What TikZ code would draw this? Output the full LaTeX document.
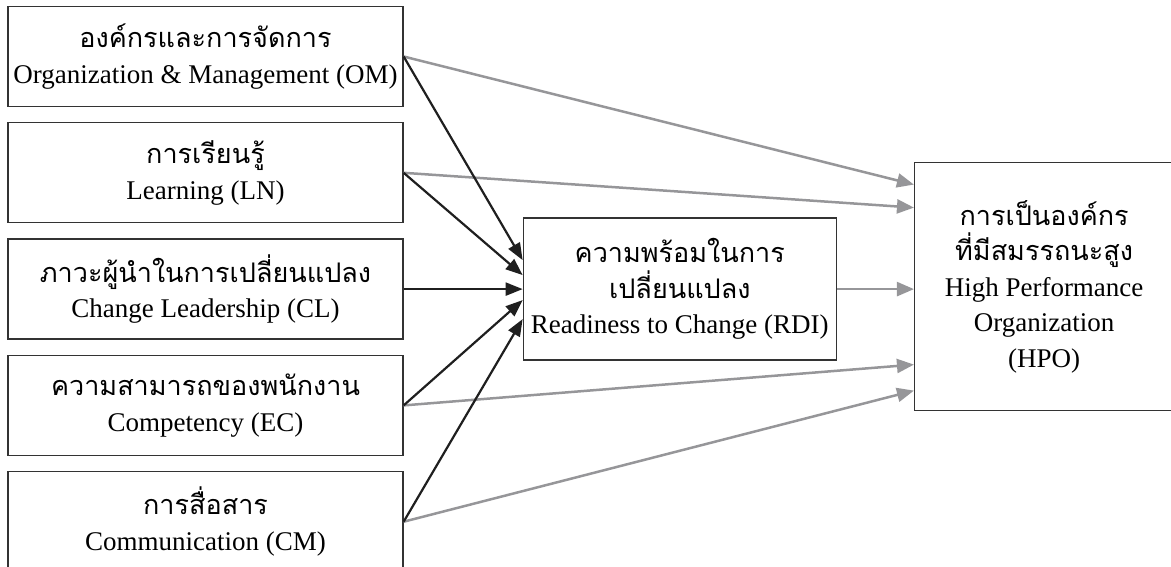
\documentclass[tikz,border=0pt]{standalone}
\usepackage{fontspec}
\setmainfont{Liberation Serif}
\newfontfamily\thaifont[Script=Thai,Scale=1.0]{Loma}
\usepackage{xcolor}
\usepackage{tikz}
\usetikzlibrary{arrows.meta,positioning}
\definecolor{hpogray}{RGB}{150,150,153}

\begin{document}
\begin{tikzpicture}[
    x=1pt, y=1pt,
    font=\fontsize{27pt}{35.5pt}\selectfont,
    box/.style={draw=black!80, line width=1.3pt, minimum width=395pt, minimum height=100pt, align=center, inner sep=0pt},
    toRDI/.style={-{Triangle[length=17pt,width=13pt]}, line width=2.2pt, draw=black!88},
    toHPO/.style={-{Triangle[length=17pt,width=14pt]}, line width=2.5pt, draw=hpogray},
    node distance=15pt
]
\useasboundingbox (0,0) rectangle (1171,-566);
\node[box] (om) at (205.5,-56.5) {{\thaifont องค์กรและการจัดการ}\\Organization \& Management (OM)};
\node[box, below=of om] (ln) {{\thaifont การเรียนรู้}\\Learning (LN)};
\node[box, below=of ln] (cl) {{\thaifont ภาวะผู้นำในการเปลี่ยนแปลง}\\Change Leadership (CL)};
\node[box, below=of cl] (ec) {{\thaifont ความสามารถของพนักงาน}\\Competency (EC)};
\node[box, below=of ec] (cm) {{\thaifont การสื่อสาร}\\Communication (CM)};
\node[box, minimum width=313pt, minimum height=142pt, right=119pt of cl] (rdi) {{\thaifont ความพร้อมในการ}\\{\thaifont เปลี่ยนแปลง}\\Readiness to Change (RDI)};
\node[box, minimum width=259pt, minimum height=248pt, right=77pt of rdi, yshift=2.5pt] (hpo) {{\thaifont การเป็นองค์กร}\\{\thaifont ที่มีสมรรถนะสูง}\\High Performance\\Organization\\(HPO)};

\draw[toHPO] (om.east) -- ([yshift=102pt]hpo.west);
\draw[toHPO] (ln.east) -- ([yshift=79pt]hpo.west);
\draw[toHPO] (rdi.east) -- (rdi.east -| hpo.west);
\draw[toHPO] (ec.east) -- ([yshift=-78pt]hpo.west);
\draw[toHPO] (cm.east) -- ([yshift=-104pt]hpo.west);

\draw[toRDI] (om.east) -- ([yshift=29pt]rdi.west);
\draw[toRDI] (ln.east) -- ([yshift=14pt]rdi.west);
\draw[toRDI] (cl.east) -- (rdi.west);
\draw[toRDI] (ec.east) -- ([yshift=-11pt]rdi.west);
\draw[toRDI] (cm.east) -- ([yshift=-30pt]rdi.west);
\end{tikzpicture}
\end{document}
